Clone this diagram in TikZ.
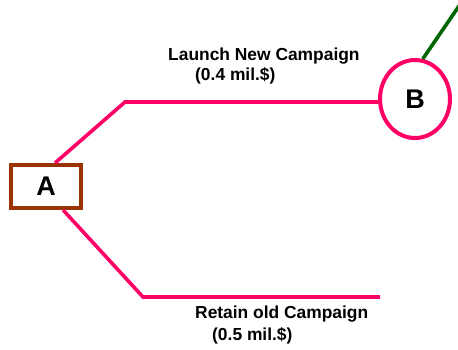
\documentclass[tikz,border=0pt]{standalone}
\usepackage{fontspec}
\setmainfont{Liberation Sans}
\usetikzlibrary{shapes.geometric}
\definecolor{pinkline}{HTML}{FF0066}
\definecolor{brownbox}{HTML}{993300}
\definecolor{greenline}{HTML}{006600}
\begin{document}
\begin{tikzpicture}[x=1pt,y=-1pt,
  branch/.style={draw=pinkline,line width=3.6pt},
  lbl/.style={anchor=base west,inner sep=0pt,font=\bfseries\fontsize{17.4}{20}\selectfont},
  decision/.style={draw=brownbox,line width=4pt,fill=white,minimum width=70pt,minimum height=43pt,inner sep=0pt,font=\bfseries\fontsize{27}{30}\selectfont},
  chance/.style={ellipse,draw=pinkline,line width=4pt,fill=white,minimum width=70pt,minimum height=78pt,inner sep=0pt,font=\bfseries\fontsize{27}{30}\selectfont}]
\useasboundingbox (0,0) rectangle (458,349);
\clip (0,0) rectangle (458,349);
\coordinate (p1) at (125,102);
\coordinate (p2) at (143,297);
\coordinate (e2) at (380,297);
\coordinate (g) at (472,-13);
\node[decision] (A) at (46,186.5) {A};
\node[chance] (B) at (415,99) {B};
\draw[branch] (A.69) -- (p1) -- (p1 -| B.west);
\draw[branch] (A.-54) -- (p2) -- (e2);
\draw[draw=greenline,line width=3.6pt] (B.79) -- (g);
\node[lbl] (t1) at (168,60.7) {Launch New Campaign};
\node[lbl] (t2) at (195,80.7) {(0.4 mil.\$)};
\node[lbl] (t3) at (195,318.3) {Retain old Campaign};
\node[lbl] (t4) at (212,340.5) {(0.5 mil.\$)};
\end{tikzpicture}
\end{document}
